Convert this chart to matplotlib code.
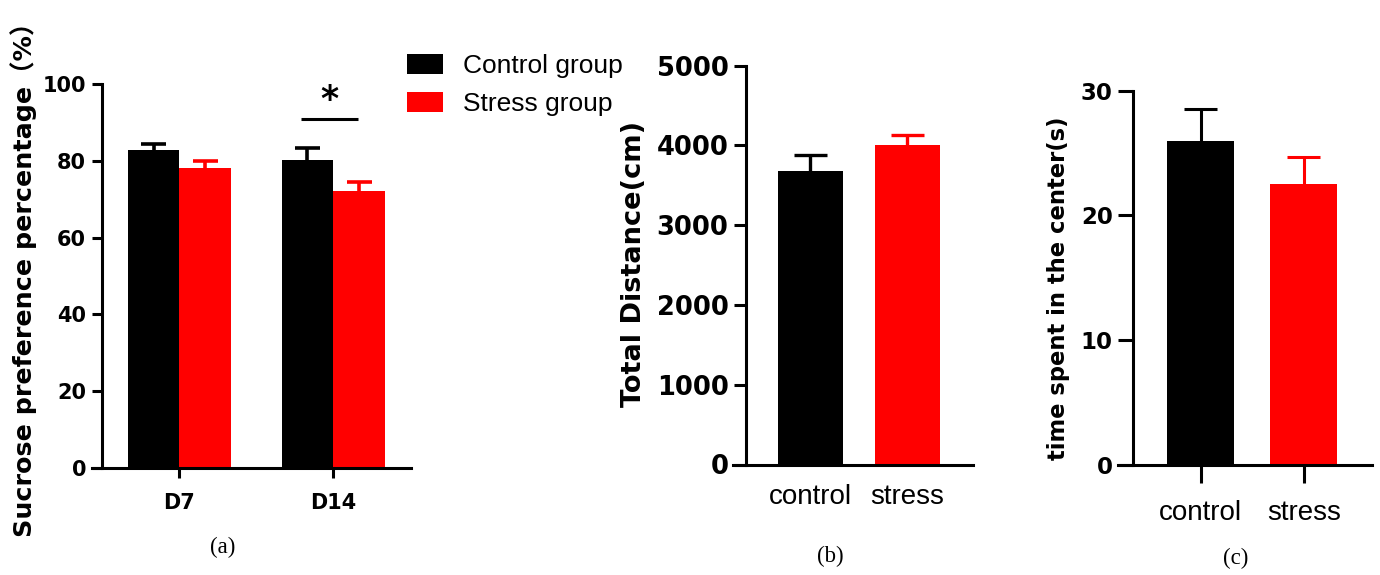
import matplotlib
matplotlib.use('Agg')
import matplotlib.pyplot as plt
import numpy as np

plt.rcParams['font.family'] = ['DejaVu Sans', 'Noto Sans CJK SC']

# (a) sucrose preference
days = ['D7', 'D14']
sucrose_control = [82.8, 80.2]
sucrose_control_sem = [1.7, 3.2]
sucrose_stress = [78.0, 72.2]
sucrose_stress_sem = [1.9, 2.3]

# (b) total distance, (c) time in center
groups = ['control', 'stress']
distance_mean = [3684, 4010]
distance_sem = [200, 125]
center_mean = [26.0, 22.5]
center_sem = [2.5, 2.2]

W, H = 1380, 575
fig = plt.figure(figsize=(13.8, 5.75), dpi=100)


def add_ax(x0, x1, yb, yt):
    return fig.add_axes([x0 / W, 1 - yb / H, (x1 - x0) / W, (yb - yt) / H])


def style(ax, spine_x, ytick_len, ysize, lw=2.2):
    for s in ['top', 'right']:
        ax.spines[s].set_visible(False)
    ax.spines['left'].set_position(('data', spine_x))
    for s in ['left', 'bottom']:
        ax.spines[s].set_linewidth(lw)
    ax.tick_params(axis='y', length=ytick_len, width=lw, pad=4, labelsize=ysize)
    plt.setp(ax.get_yticklabels(), fontweight='bold')


def upper_err(ax, xs, means, sems, color, half_cap, lw):
    tops = np.asarray(means) + np.asarray(sems)
    ax.vlines(xs, means, tops, color=color, lw=lw)
    ax.hlines(tops, np.asarray(xs) - half_cap, np.asarray(xs) + half_cap,
              color=color, lw=lw)


# ---- (a)
ax1 = add_ax(91.7, 410.7, 468, 84)
x = np.arange(len(days))
w = 0.335
b_c = ax1.bar(x - w / 2, sucrose_control, w, color='black', linewidth=0)
b_s = ax1.bar(x + w / 2, sucrose_stress, w, color='red', linewidth=0)
upper_err(ax1, x - w / 2, sucrose_control, sucrose_control_sem, 'black', 0.081, 2.6)
upper_err(ax1, x + w / 2, sucrose_stress, sucrose_stress_sem, 'red', 0.081, 2.6)
ax1.set_ylim(0, 100)
ax1.set_xlim(-0.569, 1.503)
ax1.set_yticks([0, 20, 40, 60, 80, 100])
ax1.set_xticks(x, days)
style(ax1, -0.504, 7.2, 15)
ax1.tick_params(axis='x', length=7.2, width=2.2, pad=10.5, labelsize=15)
plt.setp(ax1.get_xticklabels(), fontweight='bold')
# significance mark
ax1.plot([x[1] - 0.21, x[1] + 0.16], [90.8, 90.8], color='black', lw=2.2,
         solid_capstyle='butt')
ax1.text(x[1] - 0.028, 93.3, '*', ha='center', va='baseline', fontsize=25,
         fontweight='bold')

fig.legend([b_c, b_s], ['Control group', 'Stress group'], loc='upper left',
           bbox_to_anchor=(407 / W, 1 - 54 / H), frameon=False,
           prop={'family': 'Liberation Sans', 'size': 19},
           handlelength=1.36, handleheight=0.76, handletextpad=0.76,
           labelspacing=0.53, borderpad=0, borderaxespad=0)

# ---- (b)
ax2 = add_ax(733.3, 973.3, 464.5, 65.7)
xg = np.arange(len(groups))
wb = 0.666
colors = ['black', 'red']
ax2.bar(xg, distance_mean, wb, color=colors, linewidth=0)
for i in range(len(groups)):
    upper_err(ax2, [xg[i]], [distance_mean[i]], [distance_sem[i]], colors[i], 0.169, 2.4)
ax2.set_ylim(0, 5000)
ax2.set_xlim(-0.794, 1.68)
ax2.set_yticks([0, 1000, 2000, 3000, 4000, 5000])
ax2.set_xticks(xg, groups, family='Liberation Sans', fontsize=20)
style(ax2, -0.663, 8.6, 18.5)
ax2.tick_params(axis='x', length=0, pad=14)

# ---- (c)
ax3 = add_ax(1118.3, 1371.7, 464.5, 90.7)
wc = 0.655
ax3.bar(xg, center_mean, wc, color=colors, linewidth=0)
for i in range(len(groups)):
    upper_err(ax3, [xg[i]], [center_mean[i]], [center_sem[i]], colors[i], 0.16, 2.2)
ax3.set_ylim(0, 30)
ax3.set_xlim(-0.797, 1.659)
ax3.set_yticks([0, 10, 20, 30])
ax3.set_xticks(xg, groups, family='Liberation Sans', fontsize=20)
style(ax3, -0.651, 10.8, 16.5)
ax3.tick_params(axis='x', length=13, width=2.2, pad=12.5)

# y labels
fig.text(24 / W, 1 - 273 / H, 'Sucrose preference percentage（%）', rotation=90,
         ha='center', va='center', fontsize=18.3, fontweight='bold')
fig.text(634 / W, 1 - 264 / H, 'Total Distance(cm)', rotation=90,
         ha='center', va='center', fontsize=19.6, fontweight='bold')
fig.text(1058 / W, 1 - 288 / H, 'time spent in the center(s)', rotation=90,
         ha='center', va='center', fontsize=16.3, fontweight='bold')

# panel letters
for lab, px, py in [('(a)', 223, 547), ('(b)', 830, 556.7), ('(c)', 1236, 558)]:
    fig.text(px / W, 1 - py / H, lab, ha='center', va='center',
             family='Liberation Serif', fontsize=16.5)

fig.savefig('out.png', dpi=100)
